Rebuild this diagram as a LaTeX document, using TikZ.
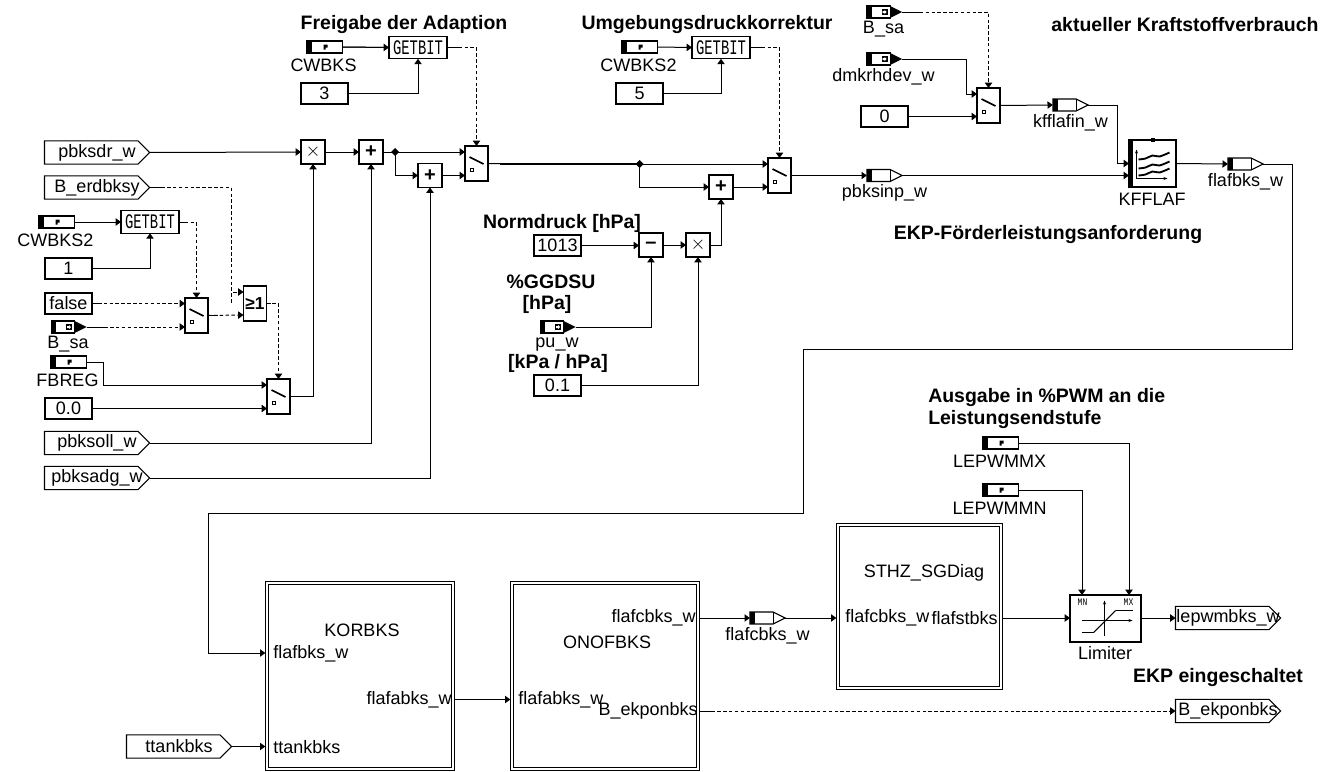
\documentclass[tikz,border=0pt]{standalone}
\usepackage{fontspec}
\setmainfont{Liberation Sans}
\newfontfamily\blockfont{Liberation Mono}
\usetikzlibrary{arrows.meta, calc}
\tikzset{
  line/.style={line width=0.75pt},
  conn/.style={line, -{Triangle[length=4pt,width=5.5pt]}},
  sigconn/.style={conn, dash pattern=on 2.6pt off 1.8pt},
  constbox/.style={draw, line width=0.8pt, minimum width=35.25pt, minimum height=15.75pt, inner sep=0pt, outer sep=0pt, font=\fontsize{13.5}{15}\selectfont},
  sigbox/.style={minimum width=78.75pt, minimum height=17.5pt, inner sep=0pt, outer sep=0pt, font=\fontsize{13.5}{15}\selectfont},
  termbox/.style={minimum width=26.5pt, minimum height=9pt, inner sep=0pt, outer sep=0pt},
  funcbox/.style={draw, line width=0.8pt, minimum width=18pt, minimum height=18pt, inner sep=0pt, outer sep=0pt, font=\fontsize{15}{15}\selectfont\bfseries},
  switchbox/.style={draw, line width=0.8pt, minimum width=17.25pt, minimum height=26.25pt, inner sep=0pt, outer sep=0pt},
  bitbox/.style={draw, line width=0.8pt, minimum width=43.5pt, minimum height=17pt, inner sep=0pt, outer sep=0pt},
  subsys/.style={draw, line width=0.7pt, double, double distance=1.1pt, minimum width=139.5pt, minimum height=139.5pt, outer sep=1.25pt},
  lbl/.style={inner sep=0pt, font=\fontsize{13.5}{15}\selectfont},
  title/.style={inner sep=0pt, font=\fontsize{14.6}{16.5}\selectfont\bfseries},
}
\newcommand{\bitlabel}{\blockfont\fontsize{15.5}{15.5}\selectfont\scalebox{.67}[1]{GETBIT}}
\newcommand{\parterm}[3]{%
  \node[termbox, draw, line width=0.8pt] (#1) at (#2) {};
  \fill (#1.north west) rectangle ($(#1.south west)+(5,0)$);
  \fill ($(#1.center)+(-1,-2.5)$) -- ++(4,0) -- ++(0,3) -- ++(-2,0) -- ++(0,2) -- ++(-2,0) -- cycle;
  \node[lbl] (#1txt) at ($(#1.center)+(-1,18)$) {#3};}
\newcommand{\interm}[3]{%
  \node[termbox] (#1) at (#2) {};
  \draw[line width=0.8pt] (#1.north west) rectangle ($(#1.south east)+(-12,0)$);
  \fill (#1.north west) rectangle ($(#1.south west)+(5,0)$);
  \fill ($(#1.north east)+(-12,0)$) -- (#1.east) -- ($(#1.south east)+(-12,0)$) -- cycle;
  \fill ($(#1.center)+(-3,-3)$) rectangle ($(#1.center)+(3,3)$);
  \fill[white] ($(#1.center)+(-2,-1)$) -- ++(2,0) -- ++(0,-1) -- ++(2,2) -- ++(-2,2) -- ++(0,-1) -- ++(-2,0) -- cycle;
  \node[lbl] (#1txt) at ($(#1.center)+(-1,17.5)$) {#3};}
\newcommand{\outterm}[3]{%
  \node[termbox] (#1) at (#2) {};
  \draw[line width=0.8pt] (#1.north west) -- ($(#1.north east)+(-12,0)$) -- (#1.east) -- ($(#1.south east)+(-12,0)$) -- (#1.south west) -- cycle;
  \draw[line width=0.8pt] ($(#1.north east)+(-12,0)$) -- ($(#1.south east)+(-12,0)$);
  \fill (#1.north west) rectangle ($(#1.south west)+(5,0)$);
  \node[lbl] (#1txt) at ($(#1.center)+(0,17.5)$) {#3};}
\newcommand{\sigin}[3]{%
  \node[sigbox] (#1) at (#2) {#3\hspace{4pt}};
  \draw[line width=0.8pt] (#1.north west) -- ($(#1.north east)+(-11.5,0)$) -- (#1.east) -- ($(#1.south east)+(-11.5,0)$) -- (#1.south west) -- cycle;}
\newcommand{\swblock}[2]{%
  \node[switchbox] (#1) at (#2) {};
  \draw[line width=1.2pt] ($(#1.center)+(-7,-6.5)$) -- ($(#1.center)+(7,0.5)$);
  \draw[line width=0.7pt] ($(#1.center)+(-6.5,4.5)$) rectangle ($(#1.center)+(-3.5,7.5)$);}
\begin{document}
\begin{tikzpicture}[x=0.75pt, y=-0.75pt]
  \useasboundingbox (0,0) rectangle (1342,771);
  % titles
  \node[title] (tadapt) at (404,25) {Freigabe der Adaption};
  \node[title] (tumgeb) at (707,25) {Umgebungsdruckkorrektur};
  \node[title] (tkraft) at (1185,25) {aktueller Kraftstoffverbrauch};
  \node[title] (tnorm) at (562,223) {Normdruck [hPa]};
  \node[title] (tggd) at (551,282) {\%GGDSU};
  \node[title] (thpa) at (547,304) {[hPa]};
  \node[title] (tkpa) at (558,363) {[kPa / hPa]};
  \node[title] (tekp) at (1048,235) {EKP-Förderleistungsanforderung};
  \node[title, anchor=west] (taus) at (928,398) {Ausgabe in \%PWM an die};
  \node[title, anchor=west] (tleist) at (928,420) {Leistungsendstufe};
  \node[title] (tein) at (1218,678) {EKP eingeschaltet};

  % left signals
  \sigin{pbksdr}{97,152.5}{pbksdr\_w}
  \sigin{erdbksy}{97,187.5}{B\_erdbksy}
  \sigin{pbksoll}{97,443}{pbksoll\_w}
  \sigin{pbksadg}{97,478}{pbksadg\_w}
  \sigin{ttank}{179,746.5}{ttankbks}

  % constants
  \node[constbox] (cthree) at (324.5,93.5) {3};
  \node[constbox] (cfive) at (639.5,93.5) {5};
  \node[constbox] (cone) at (68.5,268.5) {1};
  \node[constbox] (cfalse) at (68.5,303.5) {false};
  \node[constbox] (czero) at (68.5,408.5) {0.0};
  \node[constbox] (cnorm) at (557.5,245.5) {1013};
  \node[constbox] (ckpa) at (557.5,385.5) {0.1};
  \node[constbox] (cnull) at (884.5,116.5) {0};

  % parameters and measured values
  \parterm{cwa}{324.5,47}{CWBKS}
  \parterm{cwb}{56.5,222}{CWBKS2}
  \parterm{cwc}{639.5,47}{CWBKS2}
  \parterm{fbreg}{68.5,362}{FBREG}
  \parterm{lemx}{1000.5,443}{LEPWMMX}
  \parterm{lemn}{1000.5,490}{LEPWMMN}
  \interm{bsaa}{69,327}{B\_sa}
  \interm{bsab}{884.5,12}{B\_sa}
  \interm{dmkr}{884.5,59}{dmkrhdev\_w}
  \interm{puw}{558,327}{pu\_w}

  % bit masks
  \node[bitbox] (gba) at (418,47.5) {\bitlabel};
  \node[bitbox] (gbb) at (150,222) {\bitlabel};
  \node[bitbox] (gbc) at (721,47.5) {\bitlabel};

  % switches
  \swblock{swa}{196.5,315.5}
  \swblock{swb}{278.5,396.5}
  \swblock{swc}{476.5,163.5}
  \swblock{swd}{779.5,175.5}
  \swblock{swe}{988.5,105.5}

  % arithmetic
  \node[funcbox] (mula) at (313,152) {$\times$};
  \node[funcbox] (adda) at (371,152) {+};
  \node[funcbox] (addb) at (430,175.5) {+};
  \node[funcbox] (addc) at (721,187) {+};
  \node[funcbox] (subb) at (651,245) {--};
  \node[funcbox] (mulb) at (698,245) {$\times$};
  \node[switchbox, font=\fontsize{13}{13}\selectfont\bfseries] (orbox) at (255,303.5) {≥1};
  \node[inner sep=0pt, outer sep=0pt, minimum size=0pt] (junca) at (395,152) {};
  \node[inner sep=0pt, outer sep=0pt, minimum size=0pt] (juncb) at (639.5,164) {};
  \fill (391,152) -- (395,148) -- (399,152) -- (395,156) -- cycle;
  \fill (635.5,164) -- (639.5,160) -- (643.5,164) -- (639.5,168) -- cycle;

  % outputs
  \outterm{pbksinp}{884.5,175.5}{pbksinp\_w}
  \outterm{kffin}{1070.5,105}{kfflafin\_w}
  \outterm{flafb}{1245.5,164}{flafbks\_w}
  \outterm{flafc}{767.5,618}{flafcbks\_w}
  \sigin{lepwm}{1228,618}{lepwmbks\_w}
  \sigin{bekp}{1228,711}{B\_ekponbks}

  % map
  \node[draw, line width=0.8pt, minimum width=35.25pt, minimum height=35.25pt, inner sep=0pt, outer sep=0pt] (kfflaf) at (1152.5,163.5) {};
  \node[lbl] (kfflaftxt) at (1152,199) {KFFLAF};
  \fill (kfflaf.north west) rectangle ($(kfflaf.south west)+(4,0)$);
  \fill ($(kfflaf.north)+(-2,-2.5)$) rectangle ($(kfflaf.north)+(2,2)$);
  \begin{scope}[shift={(kfflaf.center)}]
    \draw[line, -{Stealth[length=3pt]}] (-16,15) -- (-16,-14);
    \draw[line, -{Stealth[length=3pt]}] (-16,15) -- (15,15);
    \foreach \yy in {0,9,16}{
      \draw[line width=1.4pt] plot[smooth] coordinates {(-14,\yy-4) (-7,\yy-5) (0,\yy-8) (7,\yy-7) (17,\yy-11)};
    }
  \end{scope}

  % limiter
  \node[draw, line width=0.8pt, minimum width=53.25pt, minimum height=35.25pt, inner sep=0pt, outer sep=0pt] (limit) at (1105.5,618.5) {};
  \node[lbl] (limittxt) at (1105,653) {Limiter};
  \begin{scope}[shift={(limit.center)}]
    \node[inner sep=0pt, font=\blockfont\fontsize{7.5}{8}\selectfont] (limn) at (-23,-16) {\scalebox{.8}[1]{MN}};
    \node[inner sep=0pt, font=\blockfont\fontsize{7.5}{8}\selectfont] (limx) at (23,-16) {\scalebox{.8}[1]{MX}};
    \draw[line width=0.6pt, -{Stealth[length=3pt]}] (-1,17) -- (-1,-18);
    \draw[line width=0.6pt, -{Stealth[length=3pt]}] (-24,2) -- (27,2);
    \draw[line width=1.2pt] (-24,14) -- (-12,14);
    \draw[line width=0.8pt] (-12,14) -- (10,-8);
    \draw[line width=1.2pt] (10,-8) -- (27,-8);
  \end{scope}

  % subsystems
  \node[subsys] (korbks) at (360,676) {};
  \node[subsys] (onof) at (605,676) {};
  \node[subsys, minimum width=122.25pt, minimum height=122.25pt] (sthz) at (919.5,606.5) {};
  \node[lbl] (kortxt) at (362,630) {KORBKS};
  \node[lbl, anchor=west] (korina) at (273,654) {flafbks\_w};
  \node[lbl, anchor=west] (korinb) at (273,747) {ttankbks};
  \node[lbl, anchor=east] (korout) at (452,700) {flafabks\_w};
  \node[lbl] (onoftxt) at (607,642) {ONOFBKS};
  \node[lbl, anchor=west] (onofin) at (518,700) {flafabks\_w};
  \node[lbl, anchor=east] (onofouta) at (696,618) {flafcbks\_w};
  \node[lbl, anchor=east] (onofoutb) at (698,711) {B\_ekponbks};
  \node[lbl] (sthztxt) at (924,573) {STHZ\_SGDiag};
  \node[lbl, anchor=west] (sthzin) at (845,618) {flafcbks\_w};
  \node[lbl, anchor=east] (sthzout) at (998,618) {flafstbks};

  % connectors, top left
  \draw[line] (cwa.east) -- (gba.west);
  \draw[conn] (cwa.east) -- (gba.west);
  \draw[conn] (cthree.east) -| (gba.south);
  \draw[sigconn] (gba.east) -| (swc.north);
  \draw[conn] (cwb.east) -- (gbb.west);
  \draw[conn] (cone.east) -| (gbb.south);
  \draw[sigconn] (gbb.east) -| (swa.north);
  \draw[sigconn] (erdbksy.east) -| ($(orbox.west)+(-12,0)$) |- ($(orbox.west)+(0,-11.5)$);
  \draw[sigconn] (cfalse.east) -- (swa.west |- cfalse.east);
  \draw[sigconn] (bsaa.east) -- (swa.west |- bsaa.east);
  \draw[sigconn] (swa.east) -- ($(orbox.west)+(0,11.5)$);
  \draw[sigconn] (orbox.east) -| (swb.north);
  \draw[conn] (fbreg.east) -- ++(17,0) |- ($(swb.west)+(0,-11.5)$);
  \draw[conn] (czero.east) -- (swb.west |- czero.east);
  \draw[conn] (swb.east) -| (mula.south);
  \draw[conn] (pbksdr.east) -- (mula.west);
  \draw[conn] (mula.east) -- (adda.west);
  \draw[conn] (pbksoll.east) -| (adda.south);
  \draw[conn] (pbksadg.east) -| (addb.south);
  \draw[conn] (adda.east) -- (swc.west |- adda.east);
  \draw[conn] (junca.center) |- (addb.west);
  \draw[conn] (addb.east) -- (swc.west |- addb.east);
  % stubs in front of the dashes
  \foreach \n/\l in {gba/12,gbb/6,erdbksy/12,cfalse/10,bsaa/18,gbc/12,bsab/18,orbox/4,swa/10}{
    \draw[line] (\n.east) -- ++(\l,0);
  }

  % connectors, middle
  \draw[line] (swc.east) -- (juncb.center);
  \draw[line width=1.5pt] (500,164) -- (juncb.center);
  \draw[conn] (juncb.center) -- (swd.west |- juncb.center);
  \draw[conn] (juncb.center) |- (addc.west);
  \draw[conn] (addc.east) -- (swd.west |- addc.east);
  \draw[conn] (mulb.east) -| (addc.south);
  \draw[conn] (cnorm.east) -- (subb.west |- cnorm.east);
  \draw[conn] (subb.east) -- (mulb.west);
  \draw[conn] (puw.east) -| (subb.south);
  \draw[conn] (ckpa.east) -| (mulb.south);
  \draw[conn] (cwc.east) -- (gbc.west);
  \draw[conn] (cfive.east) -| (gbc.south);
  \draw[sigconn] (gbc.east) -| (swd.north);
  \draw[conn] (swd.east) -- (pbksinp.west);

  % connectors, top right
  \draw[sigconn] (bsab.east) -| (swe.north);
  \draw[conn] (dmkr.east) -| ($(swe.west)+(-11,-11.5)$) -- ($(swe.west)+(0,-11.5)$);
  \draw[conn] (cnull.east) -- (swe.west |- cnull.east);
  \draw[conn] (swe.east) -- (kffin.west);
  \draw[conn] (kffin.east) -| ($(kfflaf.west)+(-12,0)$) -- (kfflaf.west);
  \draw[conn] (pbksinp.east) -- (kfflaf.west |- pbksinp.east);
  \draw[conn] (kfflaf.east) -- (flafb.west);

  % long return path
  \draw[conn] (flafb.east) -- (1292,164) -- (1292,349) -- (803,349) -- (803,513) -- (208,513) -- (208,653) -- (korbks.west |- 0,653);

  % connectors, bottom
  \draw[conn] (ttank.east) -- (korbks.west |- ttank.east);
  \draw[conn] (korbks.east |- 0,699.5) -- (onof.west |- 0,699.5);
  \draw[conn] (onof.east |- flafc.west) -- (flafc.west);
  \draw[conn] (flafc.east) -- (sthz.west |- flafc.east);
  \draw[conn] (sthz.east |- flafc.east) -- (limit.west |- flafc.east);
  \draw[conn] (limit.east |- lepwm.west) -- (lepwm.west);
  \draw[conn] (lemx.east) -| (1129,595);
  \draw[conn] (lemn.east) -| (1082,595);
  \draw[sigconn] (onof.east |- bekp.west) -- (bekp.west);
  \draw[line] (onof.east |- bekp.west) -- ++(13,0);
\end{tikzpicture}
\end{document}
